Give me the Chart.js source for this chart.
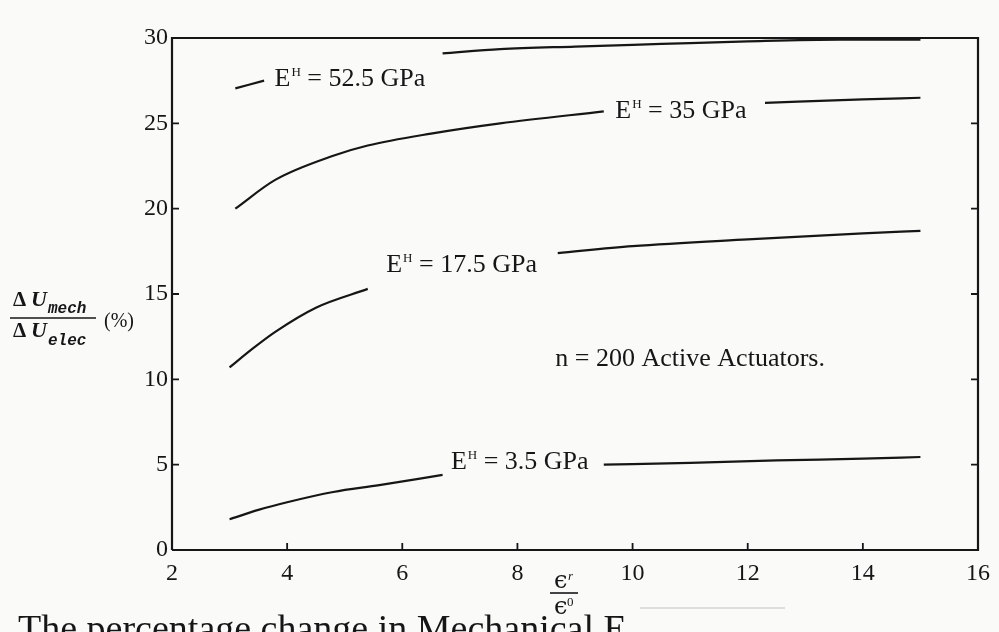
<!DOCTYPE html>
<html>
<head>
<meta charset="utf-8">
<script src="https://cdn.jsdelivr.net/npm/chart.js@4.4.1/dist/chart.umd.min.js"></script>
<style>
  body { margin: 0; background: #fafaf8; }
  canvas { display: block; }
</style>
</head>
<body>
<canvas id="energy-chart" width="999" height="632"></canvas>
<script>
// permittivity ratio (x) and % energy change (y) for each E^H curve, null = gap for the label
var x_3_5 = [3.0, 3.5, 4.0, 4.8, 5.6, 6.7, 8.0, 9.5, 11.0, 12.5, 14.0, 15.0];
var y_3_5 = [1.8, 2.35, 2.8, 3.4, 3.8, 4.4, null, 5.0, 5.1, 5.25, 5.35, 5.45];

var x_17_5 = [3.0, 3.4, 3.8, 4.5, 5.4, 7.0, 8.7, 10.0, 12.0, 14.0, 15.0];
var y_17_5 = [10.7, 11.8, 12.8, 14.2, 15.3, null, 17.4, 17.8, 18.2, 18.55, 18.7];

var x_35 = [3.1, 3.8, 4.8, 5.4, 6.5, 7.7, 9.5, 10.9, 12.3, 14.0, 15.0];
var y_35 = [20.0, 21.7, 23.1, 23.7, 24.4, 25.0, 25.7, null, 26.2, 26.4, 26.5];

var x_52_5 = [3.1, 3.6, 5.1, 6.7, 7.7, 9.0, 10.5, 12.0, 13.6, 15.0];
var y_52_5 = [27.05, 27.5, null, 29.1, 29.35, 29.5, 29.65, 29.8, 29.9, 29.9];

var xTicks = [2, 4, 6, 8, 10, 12, 14, 16];
var yTicks = [0, 5, 10, 15, 20, 25, 30];

// curve labels, anchored in data units
var curveLabels = [
    { sup: 'H', rest: ' = 52.5 GPa', x: 5.09, y: 27.2 },
    { sup: 'H', rest: ' = 35 GPa', x: 10.84, y: 25.3 },
    { sup: 'H', rest: ' = 17.5 GPa', x: 7.03, y: 16.3 },
    { sup: 'H', rest: ' = 3.5 GPa', x: 8.04, y: 4.76 }
];
var noteText = 'n = 200 Active Actuators.';
var notePos = { x: 11.0, y: 10.8 };
var captionText = 'The percentage change in Mechanical E';

var SERIF = '"Liberation Serif", "Times New Roman", serif';
var INK = '#161616';

function toPoints(xs, ys) {
    var pts = [];
    for (var i = 0; i < xs.length; i++) {
        pts.push({ x: xs[i], y: ys[i] });
    }
    return pts;
}

function curve(label, xs, ys) {
    return {
        label: label,
        data: toPoints(xs, ys),
        borderColor: INK,
        borderWidth: 2.2,
        pointRadius: 0,
        fill: false,
        spanGaps: false,
        cubicInterpolationMode: 'monotone'
    };
}

var paperPlugin = {
    id: 'paper',
    beforeDraw: function(chart) {
        var ctx = chart.ctx;
        ctx.save();
        ctx.fillStyle = '#fafaf8';
        ctx.fillRect(0, 0, chart.width, chart.height);
        ctx.restore();
    },
    afterDraw: function(chart) {
        var ctx = chart.ctx;
        var a = chart.chartArea;
        var xs = chart.scales.x, ys = chart.scales.y;
        ctx.save();
        ctx.strokeStyle = INK;
        ctx.fillStyle = INK;

        // frame
        ctx.lineWidth = 2.2;
        ctx.beginPath();
        ctx.moveTo(a.left, a.bottom);
        ctx.lineTo(a.left, a.top);
        ctx.lineTo(a.right, a.top);
        ctx.lineTo(a.right, a.bottom);
        ctx.lineTo(a.left, a.bottom);
        ctx.stroke();

        // inward ticks
        ctx.lineWidth = 1.8;
        ctx.beginPath();
        for (var v of yTicks) {
            if (v === 0 || v === 30) continue;
            var py = ys.getPixelForValue(v);
            ctx.moveTo(a.left, py); ctx.lineTo(a.left + 7, py);
            ctx.moveTo(a.right, py); ctx.lineTo(a.right - 7, py);
        }
        for (var u of xTicks) {
            if (u === 2 || u === 16) continue;
            var px = xs.getPixelForValue(u);
            ctx.moveTo(px, a.bottom); ctx.lineTo(px, a.bottom - 7);
        }
        ctx.stroke();

        // curve labels
        ctx.textBaseline = 'alphabetic';
        for (var l of curveLabels) {
            ctx.font = '26px ' + SERIF;
            var wE = ctx.measureText('E').width;
            var wRest = ctx.measureText(l.rest).width;
            ctx.font = '13px ' + SERIF;
            var wSup = ctx.measureText(l.sup).width + 1;
            var total = wE + wSup + wRest;
            var cx = xs.getPixelForValue(l.x) - total / 2;
            var cy = ys.getPixelForValue(l.y);
            ctx.textAlign = 'left';
            ctx.font = '26px ' + SERIF;
            ctx.fillText('E', cx, cy);
            ctx.font = '13px ' + SERIF;
            ctx.fillText(l.sup, cx + wE + 1, cy - 10);
            ctx.font = '26px ' + SERIF;
            ctx.fillText(l.rest, cx + wE + wSup, cy);
        }
        ctx.textAlign = 'center';
        ctx.font = '26px ' + SERIF;
        ctx.fillText(noteText, xs.getPixelForValue(notePos.x), ys.getPixelForValue(notePos.y));

        // y title: dU_mech / dU_elec (%)
        ctx.textAlign = 'left';
        ctx.font = 'bold 21px ' + SERIF;
        ctx.fillText('\u0394', 13, 306);
        ctx.fillText('\u0394', 13, 337);
        ctx.font = 'italic bold 22px ' + SERIF;
        ctx.fillText('U', 31, 306);
        ctx.fillText('U', 31, 337);
        ctx.font = 'italic bold 16px "Liberation Mono", "Courier New", monospace';
        ctx.fillText('mech', 48, 313);
        ctx.fillText('elec', 48, 345);
        ctx.lineWidth = 1.6;
        ctx.beginPath();
        ctx.moveTo(10, 318); ctx.lineTo(96, 318);
        ctx.stroke();
        ctx.font = '20px ' + SERIF;
        ctx.fillText('(%)', 104, 327);

        // x title: eps^r / eps^0
        ctx.font = '24px "DejaVu Serif", ' + SERIF;
        ctx.fillText('\u03f5', 554, 588);
        ctx.fillText('\u03f5', 554, 614);
        ctx.font = 'italic 13px ' + SERIF;
        ctx.fillText('r', 568, 580);
        ctx.font = '13px ' + SERIF;
        ctx.fillText('0', 567, 606);
        ctx.lineWidth = 1.6;
        ctx.beginPath();
        ctx.moveTo(550, 593); ctx.lineTo(578, 593);
        ctx.stroke();

        // caption cut off by the page edge
        ctx.font = '38px ' + SERIF;
        ctx.fillText(captionText, 18, 641);
        ctx.strokeStyle = 'rgba(60,60,60,0.3)';
        ctx.lineWidth = 1;
        ctx.beginPath();
        ctx.moveTo(640, 608); ctx.lineTo(785, 608);
        ctx.stroke();
        ctx.restore();
    }
};

var ctx = document.getElementById('energy-chart').getContext('2d');
var chart = new Chart(ctx, {
    type: 'line',
    data: {
        datasets: [
            curve('E^H = 52.5 GPa', x_52_5, y_52_5),
            curve('E^H = 35 GPa', x_35, y_35),
            curve('E^H = 17.5 GPa', x_17_5, y_17_5),
            curve('E^H = 3.5 GPa', x_3_5, y_3_5)
        ]
    },
    options: {
        responsive: false,
        animation: false,
        layout: { padding: { left: 0, right: 21, top: 38, bottom: 0 } },
        plugins: {
            legend: { display: false },
            tooltip: { enabled: false }
        },
        scales: {
            x: {
                type: 'linear',
                min: 2,
                max: 16,
                afterBuildTicks: function(scale) {
                    scale.ticks = xTicks.map(function(v) { return { value: v }; });
                },
                afterFit: function(scale) { scale.height = 82; },
                grid: { display: false, drawTicks: false },
                border: { display: false },
                ticks: {
                    color: INK,
                    padding: 9,
                    maxRotation: 0,
                    font: { family: SERIF, size: 24 }
                }
            },
            y: {
                type: 'linear',
                min: 0,
                max: 30,
                afterBuildTicks: function(scale) {
                    scale.ticks = yTicks.map(function(v) { return { value: v }; });
                },
                afterFit: function(scale) { scale.width = 172; },
                grid: { display: false, drawTicks: false },
                border: { display: false },
                ticks: {
                    color: INK,
                    padding: 4,
                    font: { family: SERIF, size: 24 }
                }
            }
        }
    },
    plugins: [paperPlugin]
});
</script>
</body>
</html>
